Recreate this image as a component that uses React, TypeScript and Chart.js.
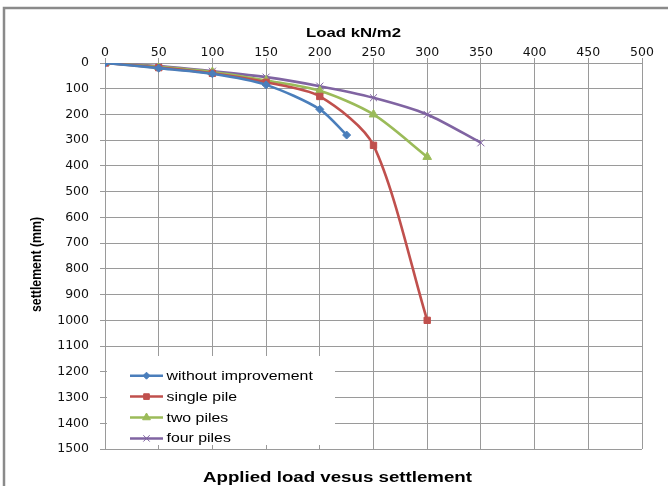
import React, { useEffect, useRef } from "react";
import { Chart, registerables } from "chart.js";
import { drawPoint } from "chart.js/helpers";

Chart.register(...registerables);

// Load (kN/m2) and settlement (mm) for each foundation case
const withoutImprovementLoad = [0, 50, 100, 150, 200, 225];
const withoutImprovementSettlement = [0, 20, 42, 85, 180, 280];
const singlePileLoad = [0, 50, 100, 150, 200, 250, 300];
const singlePileSettlement = [0, 18, 40, 75, 130, 320, 1000];
const twoPilesLoad = [0, 50, 100, 150, 200, 250, 300];
const twoPilesSettlement = [0, 15, 35, 68, 108, 200, 365];
const fourPilesLoad = [0, 50, 100, 150, 200, 250, 300, 350];
const fourPilesSettlement = [0, 12, 32, 55, 90, 135, 200, 310];

const seriesNames = ["without improvement", "single pile", "two piles", "four piles"];
const loadTicks = [0, 50, 100, 150, 200, 250, 300, 350, 400, 450, 500];
const settlementTicks = [0, 100, 200, 300, 400, 500, 600, 700, 800, 900, 1000, 1100, 1200, 1300, 1400, 1500];

const xTitle = "Load kN/m2";
const yTitle = "settlement (mm)";
const chartTitle = "Applied load vesus settlement";

const colors = ["#4A7EBB", "#C0504D", "#9BBB59", "#8064A2"];
const pointStyles = ["rectRot", "rect", "triangle", "crossRot"];
const pointRadii = [4, 4.5, 5, 5];

const GRID = "#9a9a9a";

function pairs(xs: number[], ys: number[]) {
  return xs.map((x, i) => ({ x, y: ys[i] }));
}

function drawFitted(
  ctx: CanvasRenderingContext2D,
  text: string,
  font: string,
  left: number,
  right: number,
  baseline: number
) {
  ctx.save();
  ctx.font = font;
  const w = ctx.measureText(text).width;
  ctx.translate(left, baseline);
  ctx.scale((right - left) / w, 1);
  ctx.textAlign = "left";
  ctx.textBaseline = "alphabetic";
  ctx.fillText(text, 0, 0);
  ctx.restore();
}

const decorPlugin = {
  id: "decor",
  afterDraw(chart: any) {
    const ctx: CanvasRenderingContext2D = chart.ctx;
    ctx.save();

    // outer frame
    ctx.strokeStyle = "#8a8a8a";
    ctx.lineWidth = 2.5;
    ctx.beginPath();
    ctx.moveTo(4, 490);
    ctx.lineTo(4, 8);
    ctx.lineTo(672, 8);
    ctx.stroke();

    ctx.fillStyle = "#000";
    // axis titles
    drawFitted(ctx, xTitle, "bold 13.5px 'Liberation Sans'", 306, 401, 36.5);
    drawFitted(ctx, chartTitle, "bold 14px 'Liberation Sans'", 203, 472, 481.5);

    ctx.save();
    ctx.font = "bold 12.3px 'Liberation Sans'";
    ctx.translate(37, 264.5);
    ctx.rotate(-Math.PI / 2);
    ctx.scale(1, 1.2);
    ctx.textAlign = "center";
    ctx.textBaseline = "middle";
    ctx.fillText(yTitle, 0, 0);
    ctx.restore();

    // legend
    ctx.fillStyle = "#fff";
    ctx.fillRect(107, 356, 228, 89);
    chart.data.datasets.forEach((ds: any, i: number) => {
      const y = 375.7 + i * 20.9;
      ctx.strokeStyle = colors[i];
      ctx.lineWidth = 2.5;
      ctx.beginPath();
      ctx.moveTo(130, y);
      ctx.lineTo(163, y);
      ctx.stroke();
      ctx.fillStyle = colors[i];
      ctx.lineWidth = 1;
      drawPoint(
        ctx,
        { pointStyle: pointStyles[i], radius: pointRadii[i] - 0.5, borderWidth: 1, rotation: 0 } as any,
        146.5,
        y
      );
      ctx.save();
      ctx.fillStyle = "#000";
      ctx.font = "13px 'Liberation Sans'";
      ctx.translate(166.5, y + 0.5);
      ctx.scale(1.22, 1);
      ctx.textAlign = "left";
      ctx.textBaseline = "middle";
      ctx.fillText(ds.label, 0, 0);
      ctx.restore();
    });

    ctx.restore();
  },
};

export default function App() {
  const ref = useRef<HTMLCanvasElement | null>(null);

  useEffect(() => {
    if (!ref.current) return;
    const series = [
      pairs(withoutImprovementLoad, withoutImprovementSettlement),
      pairs(singlePileLoad, singlePileSettlement),
      pairs(twoPilesLoad, twoPilesSettlement),
      pairs(fourPilesLoad, fourPilesSettlement),
    ];
    const chart = new Chart(ref.current, {
      type: "line",
      data: {
        datasets: series.map((data, i) => ({
          label: seriesNames[i],
          data,
          borderColor: colors[i],
          backgroundColor: colors[i],
          borderWidth: 2.6,
          tension: 0.28,
          fill: false,
          pointStyle: pointStyles[i] as any,
          pointRadius: pointRadii[i],
          pointBorderWidth: 1,
          pointBorderColor: colors[i],
          pointBackgroundColor: colors[i],
        })),
      },
      options: {
        animation: false,
        responsive: false,
        devicePixelRatio: 1,
        layout: { padding: { left: 0, top: 0, right: 26, bottom: 37 } },
        plugins: {
          legend: { display: false },
          tooltip: { enabled: false },
          title: { display: false },
        },
        scales: {
          x: {
            type: "linear",
            position: "top",
            min: 0,
            max: 500,
            afterBuildTicks: (s: any) => {
              s.ticks = loadTicks.map((v) => ({ value: v }));
            },
            afterFit: (s: any) => {
              s.height = 63;
            },
            ticks: {
              font: { family: "'DejaVu Sans'", size: 12.5 },
              color: "#111",
              padding: -2,
              maxRotation: 0,
              callback: (v: any) => String(v),
            },
            grid: { color: GRID, lineWidth: 1, tickLength: 5, drawTicks: true },
            border: { color: GRID, width: 1 },
          },
          y: {
            type: "linear",
            reverse: true,
            min: 0,
            max: 1500,
            afterBuildTicks: (s: any) => {
              s.ticks = settlementTicks.map((v) => ({ value: v }));
            },
            afterFit: (s: any) => {
              s.width = 105;
            },
            ticks: {
              font: { family: "'DejaVu Sans'", size: 12.5 },
              color: "#111",
              padding: 11,
              callback: (v: any) => String(v),
            },
            grid: { color: GRID, lineWidth: 1, tickLength: 5, drawTicks: true },
            border: { color: GRID, width: 1 },
          },
        },
      },
      plugins: [decorPlugin],
    });
    return () => chart.destroy();
  }, []);

  return (
    <div style={{ position: "fixed", left: 0, top: 0, width: 668, height: 486, background: "#fff" }}>
      <canvas ref={ref} width={668} height={486} style={{ width: 668, height: 486, display: "block" }} />
    </div>
  );
}
